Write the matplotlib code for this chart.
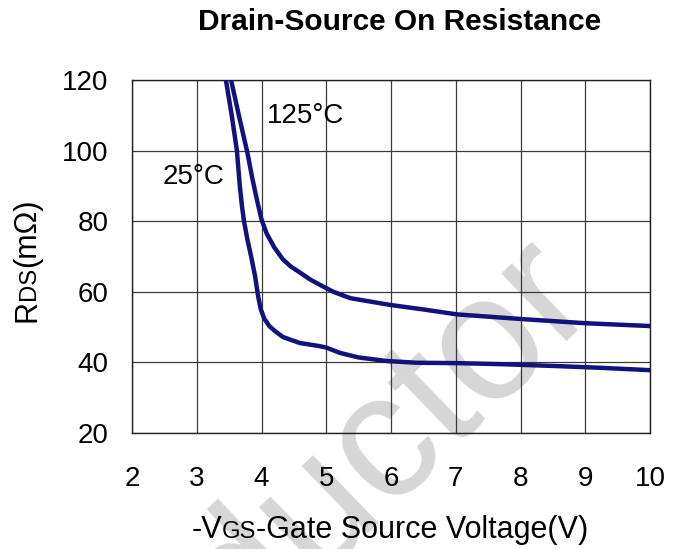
import numpy as np
import matplotlib as mpl
mpl.use("Agg")
import matplotlib.pyplot as plt
import matplotlib.transforms as mtransforms

mpl.rcParams["font.family"] = ["Liberation Sans", "DejaVu Sans"]

# ===== data =====
x_25 = [3.45, 3.54, 3.62, 3.665, 3.70, 3.73, 3.78, 3.84, 3.90, 3.95, 3.99, 4.04,
        4.12, 4.20, 4.33, 4.59, 4.90, 5.00, 5.21, 5.50, 5.93, 6.40, 7.00, 7.70,
        8.50, 9.20, 10.0]
y_25 = [120, 110, 100, 90, 84, 80, 75, 70, 64.5, 58.5, 55, 52.5,
        50.3, 49, 47.2, 45.5, 44.6, 44.2, 42.7, 41.4, 40.4, 39.9, 39.8, 39.5,
        39.0, 38.5, 37.8]

x_125 = [3.53, 3.65, 3.78, 3.86, 3.93, 4.00, 4.08, 4.20, 4.33, 4.45, 4.59, 4.75,
         4.90, 5.11, 5.37, 5.98, 6.50, 7.02, 8.00, 9.00, 10.0]
y_125 = [120, 110, 99.6, 92, 86, 80.5, 76.5, 72.5, 69.2, 67.2, 65.5, 63.5,
         62, 60, 58.2, 56.3, 55.0, 53.6, 52.3, 51.1, 50.3]

x_ticks = [2, 3, 4, 5, 6, 7, 8, 9, 10]
y_ticks = [20, 40, 60, 80, 100, 120]

# ===== params =====
W, H = 681, 549
c_line = "#12127f"
tick_size = 20
label_size = 22

fig = plt.figure(figsize=(W / 100, H / 100), dpi=100)
ax = fig.add_axes([132 / W, 1 - 433 / H, (650 - 132) / W, (433 - 80) / H])
px = mtransforms.IdentityTransform()

# ===== watermark =====
ax.text(600, H - 302, "Semiconductor", transform=px, fontsize=128,
        color="#d6d6d6", rotation=44, rotation_mode="anchor",
        ha="right", va="baseline", clip_on=False, zorder=0.2)

# ===== curves =====
ax.plot(x_25, y_25, c=c_line, lw=3.2, solid_capstyle="round",
        solid_joinstyle="round", zorder=3)
ax.plot(x_125, y_125, c=c_line, lw=3.2, solid_capstyle="round",
        solid_joinstyle="round", zorder=3)

ax.text(4.08, 107.8, "125°C", fontsize=tick_size, ha="left", va="baseline")
ax.text(2.47, 90.5, "25°C", fontsize=tick_size, ha="left", va="baseline")

# ===== axes =====
ax.set_xlim(2, 10)
ax.set_ylim(20, 120)
ax.set_xticks(x_ticks)
ax.set_yticks(y_ticks)
ax.set_axisbelow(True)
ax.grid(True, color="#3a3a3a", lw=0.9)
ax.tick_params(axis="both", length=0, labelsize=tick_size)
ax.tick_params(axis="x", pad=24)
ax.tick_params(axis="y", pad=17)
for s in ax.spines.values():
    s.set_color("#222222")
    s.set_linewidth(1.0)

# title
fig.text(400, H - 30, "Drain-Source On Resistance", transform=px,
         fontsize=21.5, fontweight="bold", ha="center", va="baseline")


# labels with smaller "GS"/"DS" on the same baseline
def pieces(parts, cx, cy, rotation=0):
    r = fig.canvas.get_renderer()
    texts = [fig.text(0, 0, s, fontsize=sz, transform=px, rotation=rotation,
                      rotation_mode="anchor", ha="left", va="baseline")
             for s, sz in parts]
    lens = []
    for t in texts:
        bb = t.get_window_extent(r)
        lens.append(bb.width if rotation == 0 else bb.height)
    pos = (cx if rotation == 0 else cy) - sum(lens) / 2
    for t, l in zip(texts, lens):
        t.set_position((pos, cy) if rotation == 0 else (cx, pos))
        pos += l


pieces([("-V", label_size), ("GS", label_size * 0.78),
        ("-Gate Source Voltage(V)", label_size)], 390, H - 538)
pieces([("R", label_size), ("DS", label_size * 0.78), ("(mΩ)", label_size)],
       35, H - 260, rotation=90)

fig.savefig("out.png", dpi=100)
